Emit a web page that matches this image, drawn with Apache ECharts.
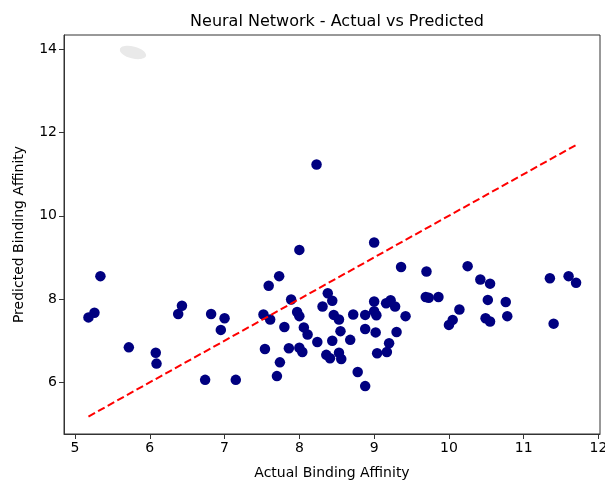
<!DOCTYPE html>
<html>
<head>
<meta charset="utf-8">
<script src="https://cdn.jsdelivr.net/npm/echarts@6/dist/echarts.min.js"></script>
<style>
  html, body { margin: 0; padding: 0; background: #fff; }
  #chart { width: 605px; height: 480px; }
</style>
</head>
<body>
<div id="chart"></div>
<script>
// Measured binding affinities (x) and the network's predictions (y)
const actual = [
  5.18, 5.26, 5.34, 5.72, 6.08, 6.09, 6.38, 6.43, 6.74, 6.82, 6.95, 7.00, 7.15,
  8.00, 7.73, 7.59, 7.89, 8.38, 8.44, 8.31, 7.52, 7.61, 7.97, 8.00, 8.46, 8.53, 8.72,
  7.80, 8.06, 8.11, 8.55, 8.24, 8.44, 8.68, 7.54, 7.86, 8.00, 8.04, 8.36, 8.41, 8.53,
  8.56, 7.74, 7.70, 8.78,
  9.00, 9.36, 9.70, 9.69, 9.73, 9.86, 9.00, 9.16, 9.22, 9.28, 8.88, 9.00, 9.03, 9.42,
  8.88, 9.02, 9.30, 9.20, 9.04, 9.17, 8.88,
  8.23,
  10.25, 10.42, 10.55, 10.52, 10.76, 10.14, 10.05, 10.00, 10.49, 10.55, 10.78,
  11.35, 11.60, 11.70, 11.40
];
const predicted = [
  7.56, 7.67, 8.55, 6.84, 6.71, 6.45, 7.64, 7.84, 6.06, 7.64, 7.26, 7.54, 6.06,
  9.18, 8.55, 8.32, 7.99, 8.14, 7.96, 7.82, 7.63, 7.51, 7.69, 7.59, 7.62, 7.51, 7.63,
  7.33, 7.32, 7.15, 7.23, 6.97, 7.00, 7.02, 6.80, 6.82, 6.83, 6.73, 6.66, 6.58, 6.71,
  6.56, 6.48, 6.15, 6.25,
  9.36, 8.77, 8.66, 8.05, 8.03, 8.05, 7.94, 7.90, 7.97, 7.82, 7.62, 7.71, 7.61, 7.59,
  7.28, 7.20, 7.21, 6.94, 6.70, 6.73, 5.91,
  11.23,
  8.79, 8.47, 8.37, 7.98, 7.93, 7.75, 7.50, 7.38, 7.54, 7.46, 7.59,
  8.50, 8.55, 8.39, 7.41
];
const xTicks = [5, 6, 7, 8, 9, 10, 11, 12];
const yTicks = [6, 8, 10, 12, 14];
const xRange = [4.853, 12.02];
const yRange = [4.76, 14.34];

const points = actual.map((a, i) => [a, predicted[i]]);
const lo = Math.min(...actual);
const hi = Math.max(...actual);
const identity = [[lo, lo], [hi, hi]];

const font = 'DejaVu Sans, sans-serif';
const chart = echarts.init(document.getElementById('chart'), null, { renderer: 'canvas' });

chart.setOption({
  animation: false,
  backgroundColor: '#fff',
  title: {
    text: 'Neural Network - Actual vs Predicted',
    left: 332, top: 9, textAlign: 'center',
    textStyle: { fontFamily: font, fontSize: 16, fontWeight: 'normal', color: '#000' }
  },
  grid: {
    left: 64, top: 35, right: 5, bottom: 46,
    outerBoundsMode: 'none', containLabel: false,
    show: true, borderColor: '#333', borderWidth: 1, backgroundColor: 'transparent'
  },
  xAxis: {
    type: 'value', min: xRange[0], max: xRange[1],
    name: 'Actual Binding Affinity', nameLocation: 'middle', nameGap: 32,
    nameTextStyle: { fontFamily: font, fontSize: 14, color: '#000' },
    axisLine: { show: true, lineStyle: { color: '#333', width: 1 } },
    axisTick: { show: true, length: 5, inside: false, customValues: xTicks, lineStyle: { color: '#333' } },
    axisLabel: { customValues: xTicks, fontFamily: font, fontSize: 14, color: '#000', margin: 7 },
    splitLine: { show: false }
  },
  yAxis: {
    type: 'value', min: yRange[0], max: yRange[1],
    name: 'Predicted Binding Affinity', nameLocation: 'middle', nameGap: 38, nameRotate: 90,
    nameTextStyle: { fontFamily: font, fontSize: 14, color: '#000' },
    axisLine: { show: true, lineStyle: { color: '#333', width: 1 } },
    axisTick: { show: true, length: 5, inside: false, customValues: yTicks, lineStyle: { color: '#333' } },
    axisLabel: { customValues: yTicks, fontFamily: font, fontSize: 14, color: '#000', margin: 7 },
    splitLine: { show: false }
  },
  graphic: [{
    type: 'ellipse',
    shape: { cx: 0, cy: 0, rx: 13.5, ry: 6 },
    x: 133, y: 52.5, rotation: -0.25,
    style: { fill: '#e9e9e9' },
    z: 1
  }],
  series: [
    {
      type: 'scatter',
      data: points,
      symbol: 'circle',
      symbolSize: 10.5,
      itemStyle: { color: '#000080', opacity: 1 },
      z: 2
    },
    {
      type: 'line',
      data: identity,
      symbol: 'none',
      lineStyle: { color: '#ff0000', width: 2, type: [7.5, 3.5] },
      z: 3
    }
  ]
});
</script>
</body>
</html>
